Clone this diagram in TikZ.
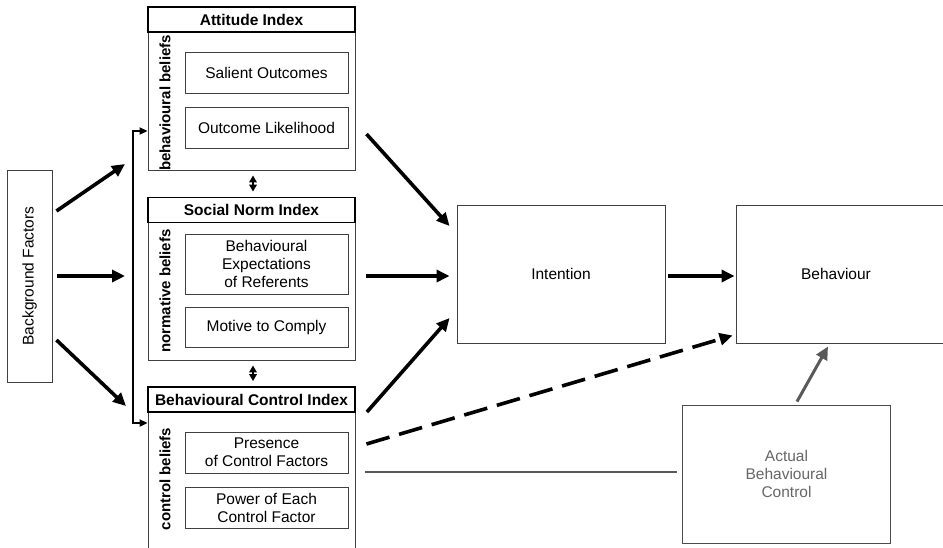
\documentclass[tikz,border=0pt]{standalone}
\usepackage{fontspec}
\setmainfont{Liberation Sans}
\usepackage{xcolor}
\usepackage{tikz}
\usetikzlibrary{arrows.meta}
\usetikzlibrary{calc}
\tikzset{
  bigbox/.style={draw=black!75,line width=0.9pt,minimum width=208pt,minimum height=138pt,inner sep=0pt,align=center},
  indexbox/.style={draw=black!75,line width=0.9pt,minimum width=207pt,minimum height=138pt,inner sep=0pt},
  titlebox/.style={draw,line width=1.8pt,minimum width=207pt,minimum height=25pt,inner sep=0pt,font=\fontsize{15.5}{18}\selectfont\bfseries},
  itembox/.style={draw=black!75,line width=0.8pt,minimum width=163pt,minimum height=41pt,inner sep=0pt,align=center},
  sidelabel/.style={rotate=90,font=\fontsize{15}{18}\selectfont\bfseries,inner sep=0pt},
  bigarrow/.style={line width=3.6pt,-{Triangle[length=13pt,width=12pt]}},
  twoway/.style={line width=2pt,{Triangle[length=7pt,width=7.5pt]}-{Triangle[length=7pt,width=7.5pt]}},
  bracket/.style={line width=2pt,{Triangle[length=8pt,width=7pt]}-{Triangle[length=8pt,width=7pt]}},
}

\begin{document}
\begin{tikzpicture}[x=1pt,y=-1pt,font=\fontsize{15.5}{18}\selectfont]
\clip(0,0)rectangle(943,547);

\node[draw=black!75,line width=0.9pt,minimum width=45pt,minimum height=212pt,inner sep=0pt](bg)at(29.5,276){\rotatebox{90}{Background Factors}};

% attitude
\node[indexbox](att)at(251.5,101){};
\node[titlebox](atttitle)at(251.5,19.5){Attitude Index};
\node[itembox](sal)at(266.5,72.5){Salient Outcomes};
\node[itembox](lik)at(266.5,127.5){Outcome Likelihood};
\node[sidelabel](attlab)at(165,103){behavioural beliefs};

% social norm
\node[indexbox](soc)at(251.5,291){};
\node[titlebox](soctitle)at(251.5,210){Social Norm Index};
\node[itembox,minimum height=60pt](expt)at(266.5,264){Behavioural\\Expectations\\of Referents};
\node[itembox,minimum height=40pt](mot)at(266.5,327){Motive to Comply};
\node[sidelabel](soclab)at(165,291){normative beliefs};

% control
\node[indexbox](ctrl)at(251.5,481){};
\node[titlebox](ctrltitle)at(251.5,399.5){Behavioural Control Index};
\node[itembox](pres)at(266.5,452.5){Presence\\of Control Factors};
\node[itembox](pow)at(266.5,507.5){Power of Each\\Control Factor};
\node[sidelabel](ctrllab)at(165,479){control beliefs};

\node[bigbox](int)at(561,274){Intention};
\node[bigbox,minimum width=216pt](beh)at(844,274){\hspace*{-16pt}Behaviour};
\node[bigbox,draw=black!70,text=black!60](abc)at(786.5,474){Actual\\Behavioural\\Control};

\coordinate(brtop)at(133,131);
\coordinate(brbot)at(133,423);
\coordinate(bgup)at(125,164);
\coordinate(bgmid)at(125,276);
\coordinate(bglow)at(126,406);

\draw[bracket](att.west|-brtop)--(brtop)--(brbot)--(ctrl.west|-brbot);
\draw[bigarrow]($(bg.east)+(4,-65)$)--(bgup);
\draw[bigarrow]($(bg.east)+(5,0)$)--(bgmid);
\draw[bigarrow]($(bg.east)+(4,64)$)--(bglow);

\draw[twoway]($(att.south)+(1.5,5)$)--($(soctitle.north)+(1.5,-5)$);
\draw[twoway]($(soc.south)+(1.5,5)$)--($(ctrltitle.north)+(1.5,-5)$);

\draw[bigarrow]($(att.east)+(11,33)$)--($(int.west)+(-7,-48)$);
\draw[bigarrow]($(soc.east)+(11,-15)$)--($(int.west)+(-7,2)$);
\draw[bigarrow]($(ctrltitle.east)+(11,12.5)$)--($(int.west)+(-7,44)$);
\draw[bigarrow]($(int.east)+(3,2)$)--($(beh.west)+(-1,2)$);
\draw[bigarrow,dash pattern=on 24pt off 10pt]($(ctrl.east)+(11,-37)$)--($(beh.south west)+(-3,-8)$);

\draw[bigarrow,line width=3pt,black!65]($(abc.north)+(10.5,-3)$)--($(beh.south)+(-16,3)$);
\draw[line width=2pt,black!65]($(ctrl.east)+(10,-9)$)--($(abc.west)+(-5,-2)$);

\end{tikzpicture}
\end{document}
